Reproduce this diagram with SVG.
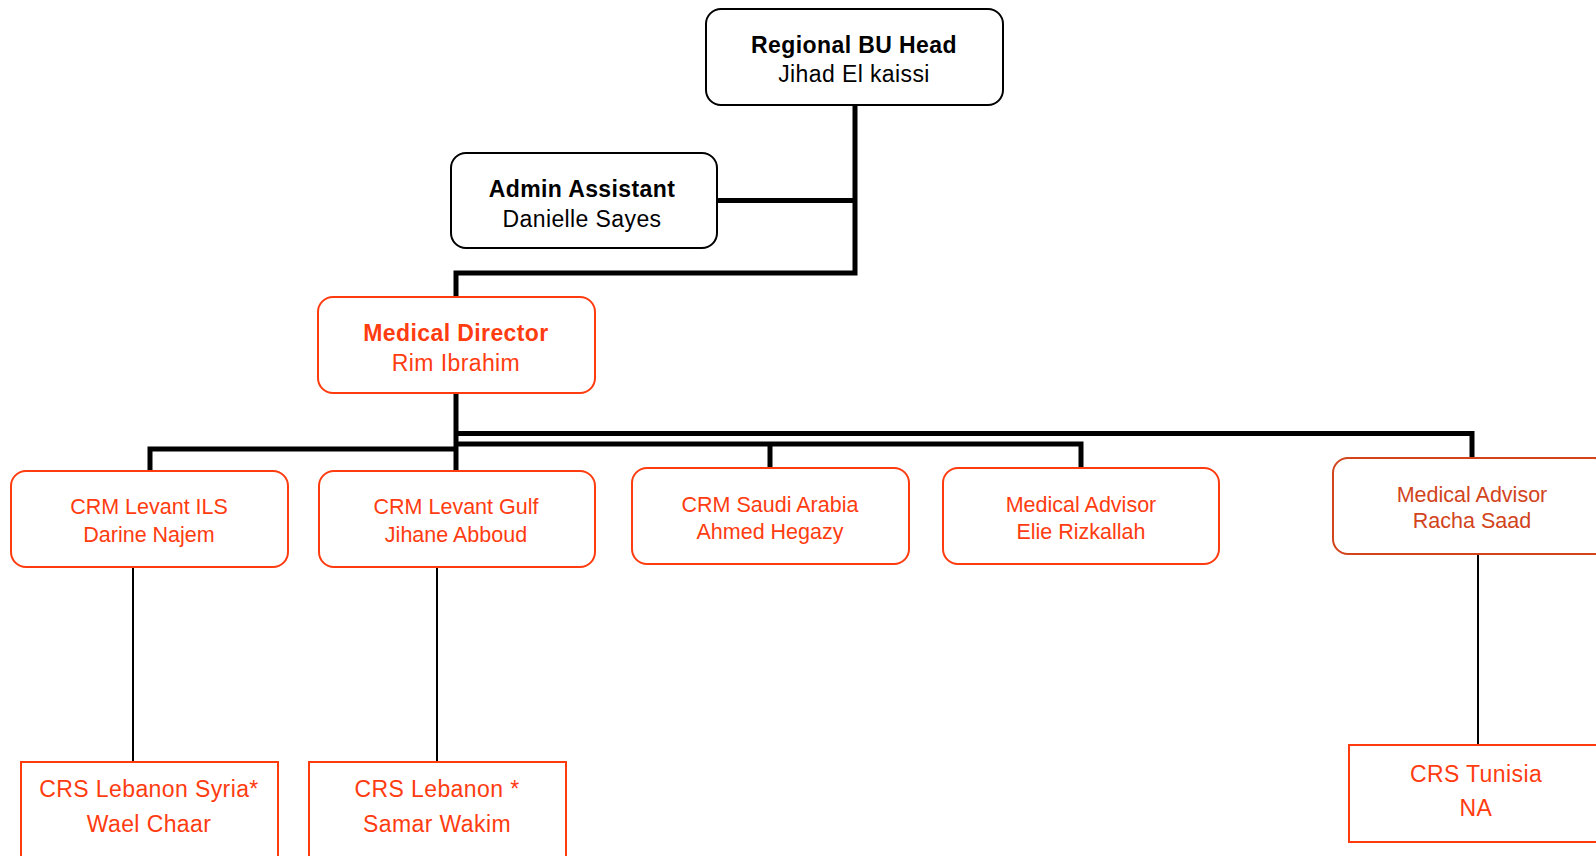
<svg xmlns="http://www.w3.org/2000/svg" width="1596" height="856" viewBox="0 0 1596 856">
<style>
text{font-family:"Liberation Sans",Arial,sans-serif;text-anchor:middle}
.bk rect{fill:#fff;stroke:#000;stroke-width:2}
.bk text{fill:#000;font-size:23px;letter-spacing:0.4px}
.or rect{fill:#fff;stroke:#ff3c10;stroke-width:2}
.or text{fill:#ff3c10;font-size:21.5px}
.dk rect{fill:#fff;stroke:#d2441c;stroke-width:2}
.dk text{fill:#d2441c;font-size:21.5px}
.or.big text{font-size:23px;letter-spacing:0.4px}
.b{font-weight:bold}
.thick{fill:none;stroke:#000;stroke-width:5;stroke-linejoin:miter}
.thin{fill:none;stroke:#000;stroke-width:2}
</style>
<g id="connectors">
<path class="thick" d="M855 105 V273 H456 V297"/>
<path class="thick" d="M717 200.5 H855"/>
<path class="thick" d="M456 393 V471"/>
<path class="thick" d="M456 433.5 H1472 V458"/>
<path class="thick" d="M456 444 H1081 V468 M770 444 V468"/>
<path class="thick" d="M456 449 H150 V471"/>
<path class="thin" d="M133 568 V762"/>
<path class="thin" d="M437 568 V762"/>
<path class="thin" d="M1478 555 V745"/>
</g>
<g id="regional-bu-head" class="bk">
<rect x="706" y="9" width="297" height="96" rx="15"/>
<text x="854" y="53" class="b">Regional BU Head</text>
<text x="854" y="82">Jihad El kaissi</text>
</g>
<g id="admin-assistant" class="bk">
<rect x="451" y="153" width="266" height="95" rx="15"/>
<text x="582" y="197" class="b">Admin Assistant</text>
<text x="582" y="227">Danielle Sayes</text>
</g>
<g id="medical-director" class="or big">
<rect x="318" y="297" width="277" height="96" rx="15"/>
<text x="456" y="341" class="b">Medical Director</text>
<text x="456" y="371">Rim Ibrahim</text>
</g>
<g id="crm-levant-ils" class="or">
<rect x="11" y="471" width="277" height="96" rx="15"/>
<text x="149" y="514">CRM Levant ILS</text>
<text x="149" y="542">Darine Najem</text>
</g>
<g id="crm-levant-gulf" class="or">
<rect x="319" y="471" width="276" height="96" rx="15"/>
<text x="456" y="514">CRM Levant Gulf</text>
<text x="456" y="542">Jihane Abboud</text>
</g>
<g id="crm-saudi-arabia" class="or">
<rect x="632" y="468" width="277" height="96" rx="15"/>
<text x="770" y="512">CRM Saudi Arabia</text>
<text x="770" y="539">Ahmed Hegazy</text>
</g>
<g id="medical-advisor-elie" class="or">
<rect x="943" y="468" width="276" height="96" rx="15"/>
<text x="1081" y="512">Medical Advisor</text>
<text x="1081" y="539">Elie Rizkallah</text>
</g>
<g id="medical-advisor-racha" class="dk">
<rect x="1333" y="458" width="276" height="96" rx="15"/>
<text x="1472" y="502">Medical Advisor</text>
<text x="1472" y="528">Racha Saad</text>
</g>
<g id="crs-lebanon-syria" class="or big">
<rect x="21" y="762" width="257" height="110"/>
<text x="149" y="797">CRS Lebanon Syria*</text>
<text x="149" y="832">Wael Chaar</text>
</g>
<g id="crs-lebanon" class="or big">
<rect x="309" y="762" width="257" height="110"/>
<text x="437" y="797">CRS Lebanon *</text>
<text x="437" y="832">Samar Wakim</text>
</g>
<g id="crs-tunisia" class="or big">
<rect x="1349" y="745" width="257" height="97"/>
<text x="1476" y="782">CRS Tunisia</text>
<text x="1476" y="816">NA</text>
</g>
</svg>
